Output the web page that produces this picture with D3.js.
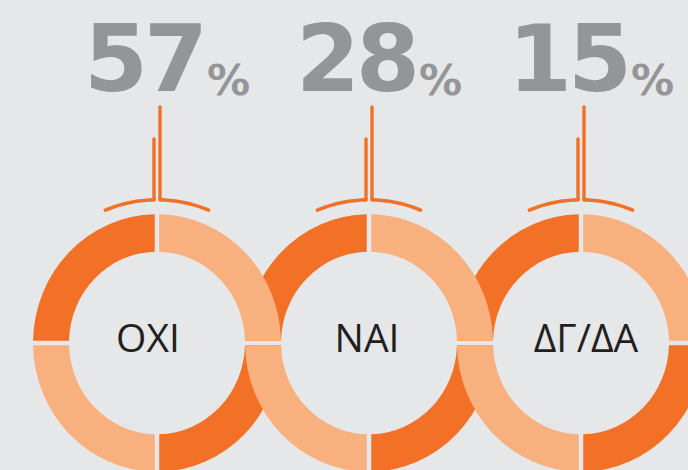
<!DOCTYPE html>
<html>
<head>
<meta charset="utf-8">
<script src="https://cdn.jsdelivr.net/npm/d3@7"></script>
<style>
  html, body { margin: 0; padding: 0; background: #e6e7e8; }
  svg { display: block; }
  .ring-label { font-family: "Open Sans", "Noto Sans", sans-serif; font-size: 39px; fill: #231f20; }
  .pct-value { font-family: "DejaVu Sans", sans-serif; font-weight: bold; fill: #939598; }
  .pointer { stroke: #f37027; stroke-width: 3.4; stroke-linecap: round; fill: none; }
</style>
</head>
<body>
<svg id="chart"></svg>
<script>
(function () {
  'use strict';

  // Answers and their shares.
  const ANSWERS = ['ΟΧΙ', 'ΝΑΙ', 'ΔΓ/ΔΑ'];
  const PERCENTS = [57, 28, 15];

  // Each ring is four equal quadrants, clockwise from 12 o'clock.
  const QUADRANTS = [1, 1, 1, 1];
  const QUADRANT_COLORS = ['#f9b07f', '#f37027', '#f9b07f', '#f37027'];

  const W = 688;
  const H = 470;

  function render() {
    const svg = d3.select('#chart')
      .attr('width', W)
      .attr('height', H);

    // Ring centres laid out by a point scale over the answers.
    const x = d3.scalePoint()
      .domain(ANSWERS)
      .range([157, 581]);
    const cy = 343;
    const stretchY = 1.038;
    const outerR = 124;
    const innerR = 88;

    const pie = d3.pie().sort(null).value(d => d);
    const slices = pie(QUADRANTS);
    const arc = d3.arc()
      .innerRadius(innerR)
      .outerRadius(outerR)
      .padRadius(100)
      .padAngle(0.045);

    const ringTransform = (name) => `translate(${x(name)},${cy}) scale(1,${stretchY})`;

    // Rings interlock: lower halves stack left-to-right, upper halves right-to-left.
    const lowerG = svg.append('g').attr('class', 'rings-lower');
    ANSWERS.forEach((name) => {
      const g = lowerG.append('g').attr('transform', ringTransform(name));
      g.selectAll('path')
        .data(slices.filter((s, i) => i === 1 || i === 2))
        .join('path')
        .attr('d', arc)
        .attr('fill', d => QUADRANT_COLORS[d.index]);
    });

    const upperG = svg.append('g').attr('class', 'rings-upper');
    ANSWERS.slice().reverse().forEach((name) => {
      const g = upperG.append('g').attr('transform', ringTransform(name));
      g.selectAll('path')
        .data(slices.filter((s, i) => i === 0 || i === 3))
        .join('path')
        .attr('d', arc)
        .attr('fill', d => QUADRANT_COLORS[d.index]);
    });

    // Bracket arc above each ring, split around the pointer.
    const bracketR = 138;
    const bracketSpan = 22 * Math.PI / 180;
    const bracketLine = d3.lineRadial().curve(d3.curveLinear);
    const bracketPts = (a0, a1) => d3.range(0, 21).map(k => {
      const a = a0 + (a1 - a0) * k / 20;
      return [a, bracketR];
    });

    const labelDx = [-9, -2, 5];

    ANSWERS.forEach((name, i) => {
      const cx = x(name);
      const g = svg.append('g').attr('class', 'pointer-group');

      const bg = g.append('g').attr('transform', ringTransform(name));
      const leftEnd = -Math.asin(3 / bracketR);
      const rightStart = Math.asin(3 / bracketR);
      bg.append('path')
        .attr('class', 'pointer')
        .attr('d', bracketLine(bracketPts(-bracketSpan, leftEnd)));
      bg.append('path')
        .attr('class', 'pointer')
        .attr('d', bracketLine(bracketPts(rightStart, bracketSpan)));

      const baseY = cy - bracketR * stretchY;
      g.append('line')
        .attr('class', 'pointer')
        .attr('x1', cx + 3).attr('y1', baseY)
        .attr('x2', cx + 3).attr('y2', 107);
      g.append('line')
        .attr('class', 'pointer')
        .attr('x1', cx - 3).attr('y1', baseY)
        .attr('x2', cx - 3).attr('y2', 139);

      // Big percentage with small % sign.
      const t = svg.append('text')
        .attr('class', 'pct-value')
        .attr('x', cx + 10)
        .attr('y', 91)
        .attr('text-anchor', 'middle');
      t.append('tspan')
        .attr('font-size', 92)
        .attr('letter-spacing', -4)
        .text(String(PERCENTS[i]));
      t.append('tspan')
        .attr('font-size', 43)
        .attr('dx', 3)
        .attr('dy', 4)
        .text('%');

      svg.append('text')
        .attr('class', 'ring-label')
        .attr('x', cx + labelDx[i])
        .attr('y', 352)
        .attr('text-anchor', 'middle')
        .text(name);
    });
  }

  render();
})();
</script>
</body>
</html>
